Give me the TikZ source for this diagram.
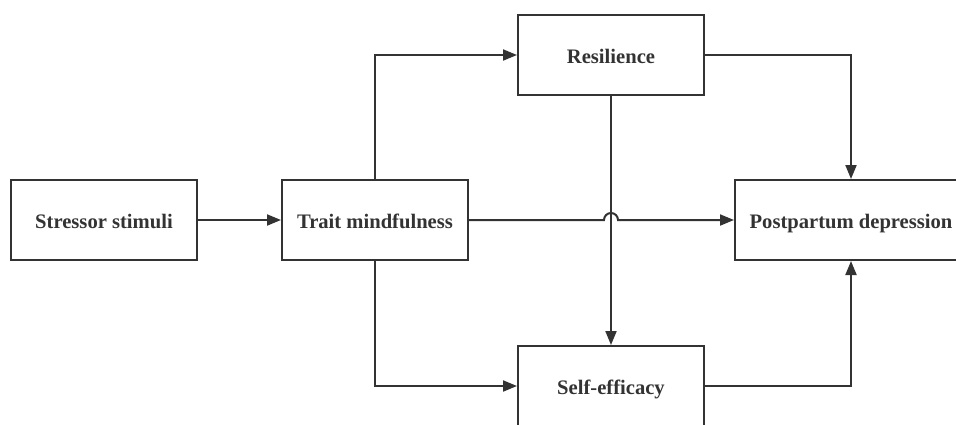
\documentclass[tikz,border=0pt]{standalone}
\usepackage{fontspec}
\setmainfont{Liberation Serif}
\usetikzlibrary{arrows.meta}
\definecolor{ink}{HTML}{333333}
\begin{document}
\begin{tikzpicture}[x=1pt,y=-1pt,
  box/.style={draw=ink,line width=2pt,fill=white,minimum width=186pt,minimum height=80pt,inner sep=0pt,
    text height=16pt,text depth=0pt,
    font=\fontsize{20.6}{23}\selectfont\bfseries,text=ink},
  conn/.style={draw=ink,line width=2pt,-{Triangle[length=14pt,width=11pt]}}]
\useasboundingbox (0,0) rectangle (956,424);
\node[box] (stress) at (104,220) {Stressor stimuli};
\node[box] (trait) at (375,220) {Trait mindfulness};
\node[box] (res) at (611,55) {Resilience};
\node[box] (self) at (611,386) {Self-efficacy};
\node[box,minimum width=232pt] (ppd) at (851,220) {Postpartum depression};
\coordinate (tu) at (375,55);
\coordinate (td) at (375,386);
\coordinate (ru) at (851,55);
\coordinate (sd) at (851,386);
\coordinate (hop) at (604,220);
\draw[conn] (stress.east) -- (trait.west);
\draw[conn] (trait.north) -- (tu) -- (res.west);
\draw[conn] (trait.south) -- (td) -- (self.west);
\draw[conn] (res.south) -- (self.north);
\draw[conn] (trait.east) -- (hop) arc[start angle=180,end angle=0,radius=7pt] -- (ppd.west);
\draw[conn] (res.east) -- (ru) -- (ppd.north);
\draw[conn] (self.east) -- (sd) -- (ppd.south);
\end{tikzpicture}
\end{document}
